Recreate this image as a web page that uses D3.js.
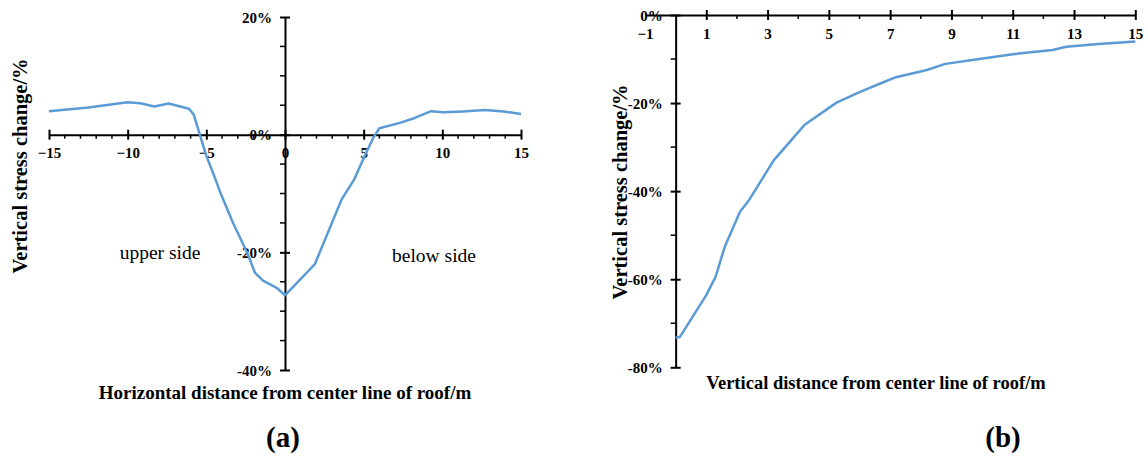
<!DOCTYPE html>
<html>
<head>
<meta charset="utf-8">
<script src="https://cdn.jsdelivr.net/npm/d3@7"></script>
<style>
  body { margin: 0; background: #fff; }
  svg { display: block; }
</style>
</head>
<body>
<svg id="chart" width="1148" height="457"></svg>
<script>
// (a) horizontal distance vs vertical stress change
const aDist = [-15, -12.5, -10, -9.2, -8.3, -7.4, -6.1, -5.8, -5, -4.5, -4.1, -3.3, -2.4, -1.9, -1.4, -0.5, 0,
  1.9, 3.6, 4.4, 5.1, 5.6, 6.0, 7.3, 8.2, 9.3, 10.1, 11.3, 12.7, 13.9, 15];
const aStress = [4.0, 4.6, 5.5, 5.35, 4.8, 5.3, 4.4, 3.4, -3.6, -7.0, -9.9, -15, -20.1, -23.5, -24.8, -26.1, -27.3,
  -22, -11, -7.6, -3.4, -0.6, 1.1, 2.0, 2.8, 4.0, 3.8, 3.95, 4.2, 3.95, 3.5];
const aXTicks = [-15, -10, -5, 0, 5, 10, 15];
const aYTicks = [20, 0, -20, -40];

// (b) vertical distance vs vertical stress change
const bDist = [0, 0.14, 1.0, 1.3, 1.6, 2.1, 2.4, 2.8, 3.2, 4.2, 5.25, 6.0, 6.7, 7.15, 8.2, 8.8, 9.8, 11.0, 12.3, 12.75, 13.8, 15];
const bStress = [-73.3, -73.1, -63.6, -59.5, -52.7, -44.7, -42, -37.5, -33, -25, -19.9, -17.5, -15.5, -14.2, -12.5, -11.1, -10.1, -8.9, -7.95, -7.2, -6.6, -6.0];
const bXTicks = [-1, 1, 3, 5, 7, 9, 11, 13, 15];
const bYTicks = [0, -20, -40, -60, -80];

const lineColor = '#5b9bd5';
const serif = "'Liberation Serif', 'Times New Roman', serif";
const svg = d3.select('#chart');
const pct = (d) => d + '%';

function crossTicks(g, horizontal, size) {
  g.selectAll('.tick line').attr(horizontal ? 'y1' : 'x1', -size).attr(horizontal ? 'y2' : 'x2', size);
}

function drawMinor(g, values, scale, horizontal, size) {
  g.selectAll('line.minor')
    .data(values)
    .enter()
    .append('line')
    .attr('class', 'minor')
    .attr('stroke', '#000')
    .attr('stroke-width', 1.5)
    .attr(horizontal ? 'x1' : 'y1', (d) => scale(d))
    .attr(horizontal ? 'x2' : 'y2', (d) => scale(d))
    .attr(horizontal ? 'y1' : 'x1', 0)
    .attr(horizontal ? 'y2' : 'x2', size);
}

function styleAxis(g) {
  g.attr('font-family', serif).attr('font-size', 15).attr('font-weight', 'bold');
  g.select('.domain').attr('stroke', '#000').attr('stroke-width', 2);
  g.selectAll('.tick line').attr('stroke', '#000').attr('stroke-width', 2);
  g.selectAll('.tick text').attr('fill', '#000');
}

function addText(x, y, text, size, bold, rotate) {
  return svg.append('text')
    .attr('transform', `translate(${x},${y})` + (rotate ? ' rotate(-90)' : ''))
    .attr('text-anchor', 'middle')
    .attr('font-family', serif)
    .attr('font-size', size)
    .attr('font-weight', bold ? 'bold' : 'normal')
    .attr('fill', '#000')
    .text(text);
}

// ---------- chart (a) ----------
const ax = d3.scaleLinear().domain([-15, 15]).range([49, 521]);
const ay = d3.scaleLinear().domain([-40, 20]).range([370, 17]);

const aYG = svg.append('g').attr('transform', `translate(${ax(0)},0)`);
aYG.call(d3.axisLeft(ay).tickValues(aYTicks).tickFormat(pct).tickSizeOuter(0).tickPadding(4));
drawMinor(aYG, d3.range(-35, 20, 5).filter((d) => d % 20 !== 0), ay, false, -5);
crossTicks(aYG, false, 5);
styleAxis(aYG);
aYG.selectAll('.tick text').attr('x', -13).attr('dy', '0.35em');

const aXG = svg.append('g').attr('transform', `translate(0,${ay(0)})`);
aXG.call(d3.axisBottom(ax).tickValues(aXTicks).tickSizeOuter(0).tickPadding(7));
drawMinor(aXG, d3.range(-15, 16).filter((d) => d % 5 !== 0), ax, true, 4);
crossTicks(aXG, true, 5);
styleAxis(aXG);

svg.append('path')
  .datum(aDist.map((d, i) => [d, aStress[i]]))
  .attr('fill', 'none')
  .attr('stroke', lineColor)
  .attr('stroke-width', 2.5)
  .attr('stroke-linejoin', 'round')
  .attr('d', d3.line().x((d) => ax(d[0])).y((d) => ay(d[1])));

addText(160, 259, 'upper side', 19.5, false);
addText(434, 262, 'below side', 19.5, false);
addText(27, 166, 'Vertical stress change/%', 20.5, true, true);
addText(285, 399, 'Horizontal distance from center line of roof/m', 19, true);
addText(283, 447, '(a)', 29, true);

// ---------- chart (b) ----------
const bx = d3.scaleLinear().domain([-1, 15]).range([645, 1135.3]);
const by = d3.scaleLinear().domain([-80, 0]).range([367.3, 15]);

const bYG = svg.append('g').attr('transform', `translate(${bx(0)},0)`);
bYG.call(d3.axisLeft(by).tickValues(bYTicks).tickFormat(pct).tickSizeOuter(0).tickPadding(4));
drawMinor(bYG, d3.range(-70, 0, 20), by, false, -5);
crossTicks(bYG, false, 5);
styleAxis(bYG);
bYG.selectAll('.tick text').attr('x', -13).attr('dy', '0.35em');

const bXG = svg.append('g').attr('transform', `translate(0,${by(0)})`);
bXG.call(d3.axisBottom(bx).tickValues(bXTicks).tickSizeOuter(0).tickPadding(7));
drawMinor(bXG, d3.range(2, 15, 2), bx, true, 4);
crossTicks(bXG, true, 5);
bXG.selectAll('.tick').filter((d) => d === -1).select('line').remove();
styleAxis(bXG);

svg.append('path')
  .datum(bDist.map((d, i) => [d, bStress[i]]))
  .attr('fill', 'none')
  .attr('stroke', lineColor)
  .attr('stroke-width', 2.5)
  .attr('stroke-linejoin', 'round')
  .attr('d', d3.line().x((d) => bx(d[0])).y((d) => by(d[1])));

addText(627, 192, 'Vertical stress change/%', 20.5, true, true);
addText(876, 389, 'Vertical distance from center line of roof/m', 18.5, true);
addText(1003, 447, '(b)', 29, true);
</script>
</body>
</html>
